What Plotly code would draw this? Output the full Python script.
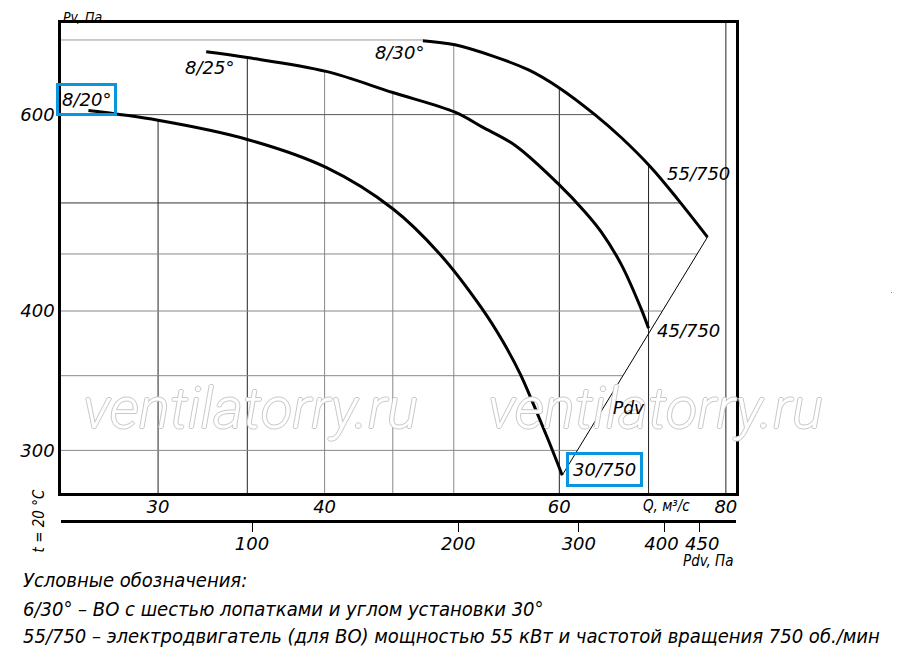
import numpy as np
import plotly.graph_objects as go

# fan curves, Q in m3/s, Pv in Pa
q_8_20 = [26.6, 30.0, 35.0, 40.1, 45.0, 48.8, 52.5, 54.4, 56.1, 57.5, 58.9, 60.3]
p_8_20 = [605, 593, 570, 538, 494, 450, 402, 376, 351, 328, 306, 285]

q_8_25 = [32.6, 35.0, 40.1, 45.0, 50.1, 52.5, 55.6, 60.0, 62.7, 64.5, 66.8, 69.1, 70.0]
p_8_25 = [683, 675, 656, 628, 603, 585, 563, 519, 491, 471, 440, 402, 386]

q_8_30 = [47.4, 50.1, 53.5, 56.9, 60.0, 63.8, 66.8, 70.3, 73.6, 77.5]
p_8_30 = [699, 693, 677, 658, 634, 600, 572, 538, 504, 466]

# dynamic pressure line between the motor points
q_pdv = [60.3, 77.5]
p_pdv = [285, 466]

q_ticks = [30, 40, 60, 80]
p_ticks = [300, 400, 600]
pdv_ticks = [100, 200, 300, 400, 450]
pdv_ticktext = ["100", "200", "300", "400\u00a0", "\u00a0450"]

q_grid = [30, 35, 40, 45, 50, 60, 70, 80]
p_grid = [300, 350, 400, 450, 500, 600, 700]

q_grid_col = ["#222", "#222", "#888", "#888", "#888", "#222", "#222", "#222"]
p_grid_col = ["#888", "#888", "#888", "#888", "#333", "#555", "#999"]

xr = [1.4043, 1.9107]
yr = [2.4388, 2.8603]
x2r = [1.7211, 2.7066]

curves = [(q_8_20, p_8_20), (q_8_25, p_8_25), (q_8_30, p_8_30)]

# upper envelope of the curves (for the top ends of the vertical grid)
def envelope(q):
    lq = np.log10(q)
    vals = []
    for cq, cp in curves:
        v = np.interp(lq, np.log10(cq), np.log10(cp), left=np.nan, right=np.nan)
        vals.append(v)
    vals = np.array(vals)
    if np.all(np.isnan(vals)):
        return 10 ** yr[1]
    return 10 ** np.nanmax(vals)

# right boundary: 8/30 curve then Pdv line down to the 30/750 point
bq = np.log10(q_8_30 + q_pdv[::-1])
bp = np.log10(p_8_30 + p_pdv[::-1])

def right_end(p):
    return 10 ** np.interp(np.log10(p), bp[::-1], bq[::-1])

fig = go.Figure()

for q, c in zip(q_grid, q_grid_col):
    fig.add_trace(go.Scatter(x=[q, q], y=[10 ** yr[0], envelope(q)], mode="lines",
                             line=dict(color=c, width=1), hoverinfo="skip"))
for p, c in zip(p_grid, p_grid_col):
    fig.add_trace(go.Scatter(x=[10 ** xr[0], right_end(p)], y=[p, p], mode="lines",
                             line=dict(color=c, width=1), hoverinfo="skip"))

fig.add_trace(go.Scatter(x=q_pdv, y=p_pdv, mode="lines",
                         line=dict(color="black", width=1), hoverinfo="skip"))
for cq, cp in curves:
    fig.add_trace(go.Scatter(x=cq, y=cp, mode="lines",
                             line=dict(color="black", width=3, shape="spline", smoothing=1.0),
                             hoverinfo="skip"))

# carrier for the Pdv scale
fig.add_trace(go.Scatter(x=[pdv_ticks[0], pdv_ticks[-1]], y=[300, 300], xaxis="x2", mode="markers",
                         marker=dict(opacity=0), hoverinfo="skip"))

ital = dict(family="DejaVu Sans", style="italic", size=18, color="black")
narrow = "DejaVu Sans Condensed, Liberation Sans Narrow, sans-serif"
blue = "#0a96dc"

# page body adds an 8px offset, so the figure is 8px smaller than the window
fig.update_layout(
    width=892, height=650,
    margin=dict(l=46, r=164, t=12, b=137),
    paper_bgcolor="white", plot_bgcolor="white",
    showlegend=False,
    xaxis=dict(type="log", range=xr, tickvals=q_ticks, ticktext=[str(v) for v in q_ticks],
               showgrid=False, zeroline=False, showline=True, mirror=True, linecolor="black",
               linewidth=2.5, ticks="", tickfont=ital, anchor="y", ticklabelstandoff=-4),
    yaxis=dict(type="log", range=yr, tickvals=p_ticks, ticktext=[str(v) for v in p_ticks],
               domain=[0.056, 1], showgrid=False, zeroline=False, showline=True, mirror=True,
               linecolor="black", linewidth=2.5, ticks="", tickfont=ital),
    xaxis2=dict(type="log", range=x2r, tickvals=pdv_ticks, ticktext=pdv_ticktext,
                overlaying="x", anchor="free", position=0, side="bottom", showgrid=False,
                zeroline=False, showline=True, linecolor="black", linewidth=2.5,
                ticks="outside", ticklen=9, tickwidth=1, tickcolor="black", tickfont=ital,
                tickangle=0, ticklabelstandoff=-3),
)

def note(text, x, y, size=18, family="DejaVu Sans", xanchor="center", **kw):
    fig.add_annotation(text=text, x=x, y=y, xref="paper", yref="paper", showarrow=False,
                       xanchor=xanchor, yanchor="middle",
                       font=dict(family=family, style="italic", size=size, color="black"), **kw)

# watermark
for wx in [0.280, 0.880]:
    fig.add_annotation(text="ventilatorry.ru", x=wx, y=0.2275, xref="paper", yref="paper",
                       showarrow=False, xanchor="center", yanchor="middle",
                       font=dict(family="Roboto", style="italic", weight=300, size=58, color="white",
                                 shadow="1px 0 0 #c8c8c8, -1px 0 0 #c8c8c8, 0 1px 0 #c8c8c8, 0 -1px 0 #c8c8c8"))

note("Pv, Па", 0.0, 1.012, size=14, family=narrow, xanchor="left")
note("8/20°", 0.038, 0.846, bordercolor=blue, borderwidth=3, borderpad=3)
note("8/25°", 0.220, 0.910)
note("8/30°", 0.5015, 0.940)
note("55/750", 0.944, 0.697)
note("45/750", 0.930, 0.383)
note("Pdv", 0.842, 0.2275, size=17)
note("30/750", 0.805, 0.104, bordercolor=blue, borderwidth=3, borderpad=4)
note("Q, м³/с", 0.897, 0.030, size=15, family=narrow)
note("Pdv, Па", 0.959, -0.080, size=15, family=narrow)
note("t = 20 °C", -0.032, 0.0, size=15, family=narrow, textangle=-90)
note("-", 1.232, 0.461, size=10, family=narrow)

legend_lines = [
    "Условные обозначения:",
    "6/30° – ВО с шестью лопатками и углом установки 30°",
    "55/750 – электродвигатель (для ВО) мощностью 55 кВт и частотой вращения 750 об./мин",
]
for txt, ly in zip(legend_lines, [-0.118, -0.176, -0.2315]):
    note(txt, -0.0587, ly, size=20, family=narrow, xanchor="left")

fig.write_html("out.html")
